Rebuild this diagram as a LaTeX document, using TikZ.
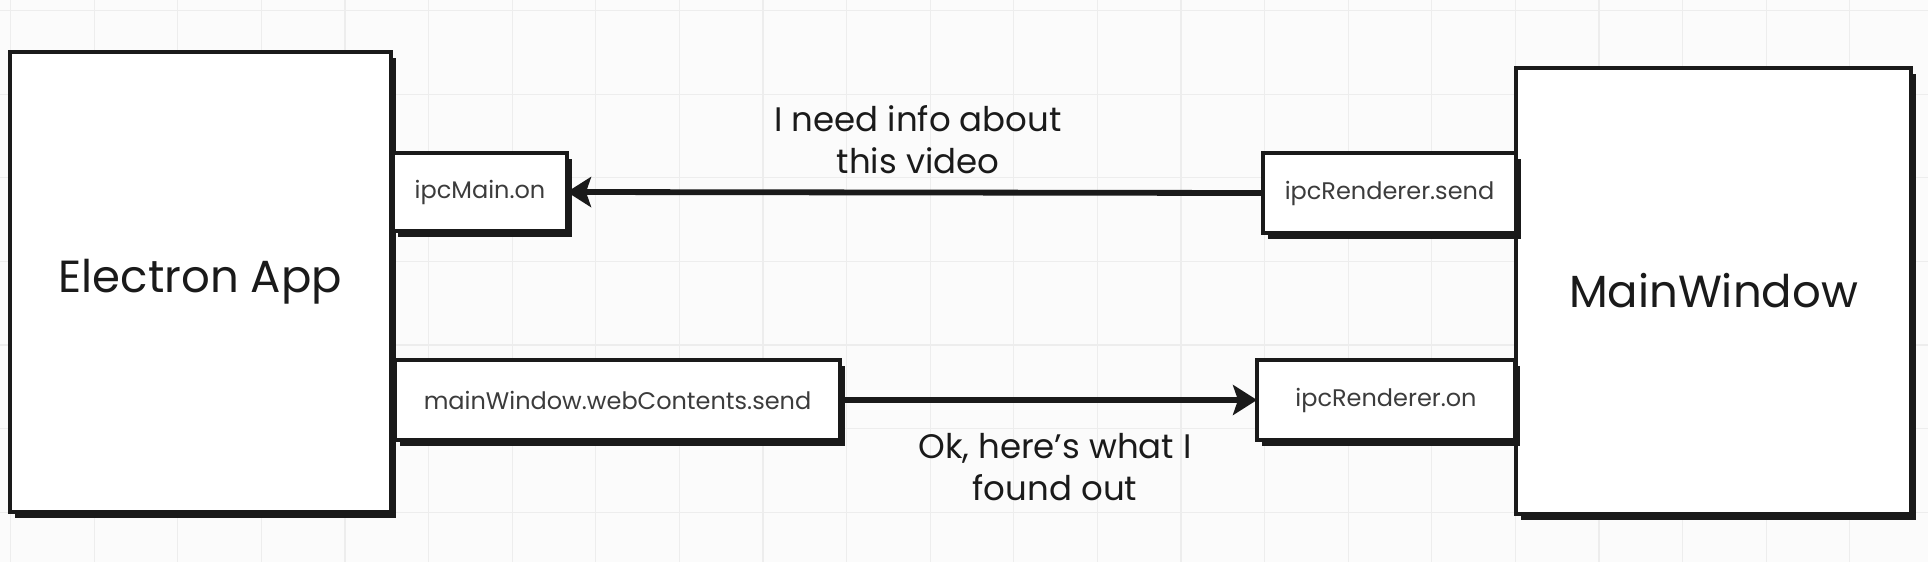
\documentclass[tikz,border=0pt]{standalone}
\usepackage{fontspec}
\setmainfont{Poppins}
\usetikzlibrary{arrows.meta, shadows, calc}
\definecolor{paper}{HTML}{FBFBFB}
\definecolor{gridgray}{HTML}{EDEDED}
\definecolor{ink}{HTML}{1A1A1A}
\tikzset{
    panel/.style = {draw=ink, fill=white, line width=1.7pt, inner sep=0pt, outer sep=0pt,
        general shadow={fill=ink, shadow xshift=2.6pt, shadow yshift=-3pt},
        text=ink, font=\fontsize{22.5}{27}\selectfont},
    callbox/.style = {panel, text=ink!85, font=\fontsize{12}{14}\selectfont},
    msg/.style = {text=ink, align=center, font=\fontsize{17}{21}\selectfont},
    wire/.style = {draw=ink, line width=2.9pt, -{Stealth[length=12pt,width=15pt,inset=2.5pt]}},
    gridline/.style = {draw=gridgray, line width=0.6pt},
}

\begin{document}
\begin{tikzpicture}[x=0.5pt, y=-0.5pt]
\fill[paper] (0,0) rectangle (1928,562);
\useasboundingbox (0,0) rectangle (1928,562);
\foreach \k in {0,...,22}
    \draw[gridline] (10.5+\k*83.6,0) -- (10.5+\k*83.6,562);
\foreach \k in {0,...,6}
    \draw[gridline] (0,10.5+\k*83.6) -- (1928,10.5+\k*83.6);

\node[panel, minimum width=190.5pt, minimum height=230pt] (App) at (200.5,282) {Electron App};
\node[panel, minimum width=197.5pt, minimum height=223pt] (Win) at (1713.5,291) {MainWindow};

\node[callbox, minimum width=87pt, minimum height=39pt] (On) at (480,192) {ipcMain.on};
\node[callbox, minimum width=222.5pt, minimum height=40pt] (Send) at (617.5,400) {mainWindow.webContents.send};
\node[callbox, minimum width=126.5pt, minimum height=40pt] (RSend) at (1389.5,193) {ipcRenderer.send};
\node[callbox, minimum width=129pt, minimum height=40pt] (ROn) at (1386,400) {ipcRenderer.on};

\draw[wire] (RSend.west) -- (On.east);
\draw[wire] (Send.east) -- (ROn.west);

\node[msg] (Ask) at (918,140) {I need info about\\this video};
\node[msg] (Reply) at (1055,467) {Ok, here's what I\\found out};
\end{tikzpicture}
\end{document}
